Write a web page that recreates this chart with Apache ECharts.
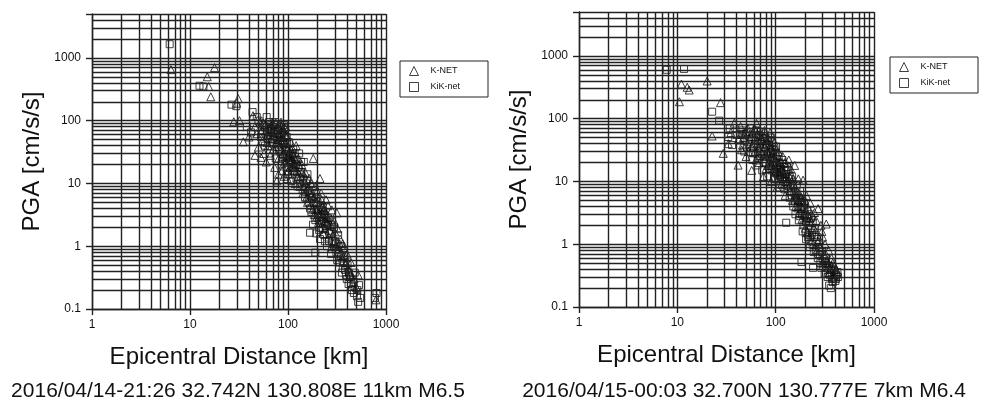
<!DOCTYPE html>
<html>
<head>
<meta charset="utf-8">
<script src="https://cdn.jsdelivr.net/npm/echarts@6/dist/echarts.min.js"></script>
<style>
  html, body { margin: 0; padding: 0; background: #fff; }
  #main { width: 981px; height: 403px; }
</style>
</head>
<body>
<div id="main"></div>
<script>
// tick labels
var xTickLabels = ['1', '10', '100', '1000']
var yTickLabels = ['0.1', '1', '10', '100', '1000']

// event captions
var captions = [
    '2016/04/14-21:26 32.742N 130.808E 11km M6.5',
    '2016/04/15-00:03 32.700N 130.777E 7km M6.4'
]

// [epicentral distance km, PGA cm/s/s]
var knet1 = [
    [6.4,650],[17.8,700],[15,500],[15.5,350],[16.3,240],[31,225],[30,190],[28,96],[32,100],[35,46],
    [40,55],[44,120],[46,80],[48,62],[52,95],[54,70],[55,48],[57,30],[58,85],[60,22],
    [62,60],[63,40],[65,75],[66,28],[68,52],[70,90],[71,35],[73,18],[74,65],[76,45],
    [78,80],[80,25],[82,55],[83,38],[85,95],[87,16],[88,70],[90,30],[92,48],[94,22],
    [96,60],[98,12],[100,35],[102,26],[105,18],[107,45],[110,14],[112,30],[115,22],[118,10],
    [121,40],[124,16],[128,25],[132,9],[135,13],[138,20],[142,7],[146,11],[150,15],[155,6],
    [160,8.5],[165,12],[170,4.5],[175,6.5],[181,25],[186,3.2],[190,9],[196,5],[200,3.8],[205,2.4],
    [212,12],[218,7],[225,4.2],[230,2.8],[238,1.9],[245,5.5],[252,3],[260,1.4],[270,2.2],[280,3.8],
    [290,1.1],[300,1.7],[315,3.4],[330,0.9],[340,1.3],[355,0.65],[370,0.95],[385,0.5],[400,0.75],[420,0.4],
    [440,0.55],[470,0.3],[500,0.22],[520,0.35],[790,0.14],
    [64,88],[69,66],[72,58],[77,72],[81,62],[86,82],[89,54],[93,76],[84,33],[99,28],
    [104,31],[109,24],[113,19],[210,4.6],[222,3.4],[234,3.9],[196,2.9],[250,2.4],
    [56,92],[59,66],[61,45],[67,83],[71,72],[75,92],[79,50],[83,88],[86,44],[91,66],
    [95,80],[97,35],[77,11],[80,14],[88,19],[91,13],[101,16],[106,24],[111,36],[114,27],
    [119,18],[126,13],[130,20],[140,15],[145,9],[152,7.5],[158,5],[166,7],[172,10],[178,3.8],
    [184,6],[192,4],[198,7.5],[207,3],[214,2],[220,5.5],[228,1.6],[236,3.3],[243,2.6],[256,4.4],
    [266,1.8],[275,2.7],[286,1.5],[296,2.5],[306,1],[320,1.9],[335,1.1],[348,0.8],[362,1.1],[378,0.7],
    [392,0.55],[410,0.45],[430,0.35],[455,0.25],[50,38],[46,28],[53,26]
]
var kik1 = [
    [6.2,1650],[12.5,360],[13.7,350],[26.5,180],[29.7,170],[43.5,137],[48,114],[60.6,114],[38,80],[42,65],
    [50,100],[53,55],[56,85],[58,40],[61,70],[64,95],[65,30],[67,60],[69,45],[72,85],
    [75,25],[77,55],[79,70],[81,35],[84,60],[86,20],[89,45],[91,85],[93,28],[95,38],
    [97,55],[99,18],[101,25],[103,45],[106,30],[108,11],[111,20],[113,35],[116,15],[119,24],
    [122,12],[126,18],[130,30],[133,10],[137,15],[141,8],[145,22],[149,6],[153,10],[158,14],
    [163,5],[168,1.64],[168,7],[173,3.5],[178,9],[183,4.8],[190,0.79],[190,2.6],[195,6],[202,3.2],
    [208,1.8],[215,4.5],[222,2.5],[228,3.6],[235,1.5],[242,2.1],[250,1],[258,2.8],[265,1.6],[275,0.75],
    [285,1.2],[295,2],[305,0.9],[318,0.6],[325,1.5],[338,0.55],[350,1],[362,0.45],[375,0.7],[390,0.35],
    [405,0.5],[415,0.25],[430,0.32],[450,0.2],[465,0.27],[480,0.38],[505,0.16],[530,0.24],[545,0.15],[800,0.18],
    [770,0.15],
    [66,78],[70,50],[74,68],[83,75],[87,64],[92,42],[96,26],[102,33],[107,22],[205,3.8],
    [214,2.9],[226,4.1],[240,3.1],[255,2.2],[280,1.6],[310,1.1],
    [55,62],[58,78],[62,52],[65,88],[68,72],[71,42],[74,95],[78,38],[80,62],[85,48],
    [88,26],[92,58],[94,34],[98,44],[100,14],[104,21],[109,28],[112,16],[117,30],[121,20],
    [125,9],[131,14],[136,22],[143,12],[150,8],[156,11],[162,7.5],[168,4],[174,6],[180,2.2],
    [186,3.8],[194,1.6],[200,5],[206,2.6],[212,1.3],[219,3.3],[226,1.9],[232,2.9],[238,1.2],[247,2.4],
    [262,1.2],[272,2.2],[282,0.9],[300,1.2],[312,0.8],[330,0.75],[345,0.7],[355,0.38],[368,0.55],[382,0.42],
    [398,0.3],[420,0.37],[440,0.26],[470,0.18],[510,0.2],[520,0.13]
]
var knet2 = [
    [11,356],[12.6,316],[13.2,286],[10.5,186],[20.1,398],[27.5,180],[22.6,53],[29.3,28],[41.5,18.2],[35,60],
    [38,85],[33,40],[44,75],[45,32],[47,50],[50,25],[52,70],[55,40],[57,15],[59,60],
    [62,30],[64,84],[66,45],[68,20],[70,55],[72,35],[75,12],[77,65],[79,25],[81,45],
    [83,18],[86,35],[88,60],[90,10],[92,28],[95,16],[97,42],[100,22],[103,8],[106,30],
    [109,14],[112,20],[115,9],[118,25],[121,12],[125,6],[128,17],[132,10],[136,22],[140,7],
    [144,13],[148,5],[152,9],[156,18],[160,4],[165,7],[170,11],[175,3.2],[180,5.5],[185,2.5],
    [190,10.5],[195,4.2],[200,1.8],[205,6],[212,3],[218,1.3],[225,4.5],[232,2.2],[240,1],[248,3.2],
    [255,1.6],[262,0.8],[270,3.7],[278,1.2],[288,2],[300,1.3],[310,0.7],[318,1.0],[327,2.1],[335,0.55],
    [345,0.8],[358,0.4],[370,0.6],[385,0.3],[400,0.45],[420,0.35],
    [74,44],[84,28],[93,21],[99,14],[108,18],[117,15],[126,11],[138,12],[170,5],[182,4],
    [42,48],[46,38],[49,62],[53,30],[56,52],[58,38],[61,70],[63,22],[65,58],[67,34],
    [69,26],[71,48],[73,28],[76,52],[78,36],[80,16],[82,30],[85,48],[87,22],[89,38],
    [91,18],[94,30],[96,24],[98,36],[101,15],[104,26],[107,19],[110,13],[114,17],[119,14],
    [124,20],[130,12],[134,8],[142,16],[150,11],[158,8],[163,6],[168,3.8],[176,6.2],[184,4.8],
    [192,3],[198,5],[203,2.4],[210,1.6],[215,3.7],[222,2.6],[230,1.4],[238,2.8],[245,1.8],[258,2.4],
    [268,1.1],[282,0.9],[295,1.6],[305,0.5],[322,0.7],[340,0.5],[352,0.35],[365,0.45],[380,0.5],[395,0.3],
    [410,0.4]
]
var kik2 = [
    [7.8,600],[11.7,620],[22.6,129],[26.6,93],[34.1,70],[33,51],[36,38],[40,55],[43,45],[46,65],
    [48,30],[50,58],[53,42],[56,70],[58,22],[60,35],[63,50],[65,18],[67,28],[69,40],
    [71,62],[73,15],[76,30],[78,48],[80,20],[82,12],[85,38],[87,24],[89,50],[91,15],
    [93,32],[96,11],[98,20],[101,36],[104,13],[107,25],[110,8],[113,16],[116,11],[120,19],
    [123,7.5],[127,13],[128,2.2],[131,9],[135,15],[139,5.5],[143,8],[147,12],[151,4],[155,6.5],
    [159,3],[164,9],[168,5],[172,2.4],[177,7],[182,3.6],[183,0.52],[188,1.6],[193,4.5],[198,2.8],
    [204,1.2],[210,3.5],[216,2],[222,0.9],[228,2.6],[235,1.5],[240,0.42],[244,0.75],[252,1.8],[260,1.1],
    [268,0.6],[276,0.9],[285,0.5],[295,0.75],[305,0.45],[315,0.34],[325,0.6],[338,0.3],[348,0.45],[364,0.2],
    [375,0.28],[390,0.38],[405,0.26],[415,0.32],[430,0.3],
    [79,34],[88,30],[94,18],[102,16],[111,12],[119,10],[133,8.5],[146,6],[160,5.5],[205,2.3],
    [45,55],[48,45],[51,35],[54,62],[57,48],[59,28],[62,40],[64,65],[66,24],[68,55],
    [70,30],[72,44],[75,58],[77,20],[81,40],[83,26],[86,16],[90,28],[92,42],[95,24],
    [97,14],[100,28],[103,18],[106,11],[109,20],[112,14],[117,22],[122,15],[126,10],[130,17],
    [137,11],[142,7],[149,9],[157,4.8],[162,7],[170,4],[175,2.8],[180,5],[186,3],[192,2],
    [196,3.8],[202,1.5],[208,2.6],[214,1.3],[220,3],[226,1.8],[232,1.1],[238,2.2],[246,1.3],[256,0.8],
    [264,1.3],[272,0.7],[282,0.68],[292,0.42],[300,0.6],[318,0.5],[330,0.42],[345,0.35],[356,0.32],[368,0.4],
    [380,0.25],[395,0.32],[410,0.28],[425,0.36],[350,0.22]
]

var font = 'Liberation Sans, Arial, Helvetica, sans-serif'
var lineColor = '#222'

function tickLabel(list) {
    return function (v) {
        for (var i = 0; i < list.length; i++) {
            if (Math.abs(Math.log10(v) - Math.log10(parseFloat(list[i]))) < 1e-6) return list[i]
        }
        return ''
    }
}

// 1..9 x each decade, used for the dense log grid
function logGridValues(lo, hi) {
    var out = []
    for (var e = Math.floor(Math.log10(lo)); e <= Math.ceil(Math.log10(hi)); e++) {
        for (var k = 1; k <= 9; k++) {
            var v = +(k * Math.pow(10, e)).toPrecision(6)
            if (v >= lo && v <= hi) out.push(v)
        }
    }
    return out
}

var gridLines = []
logGridValues(1, 1000).forEach(function (v) { gridLines.push({ xAxis: v }) })
logGridValues(0.1, 5000).forEach(function (v) { gridLines.push({ yAxis: v }) })

var grids = [
    { left: 92, top: 14, width: 294, height: 295 },
    { left: 579, top: 12, width: 295, height: 295 }
]

function xAxisOf(i) {
    return {
        gridIndex: i, type: 'log', logBase: 10, min: 1, max: 1000,
        name: 'Epicentral Distance [km]', nameLocation: 'middle', nameGap: 36,
        nameTextStyle: { fontSize: 24, color: '#111', fontFamily: font },
        axisLine: { show: true, lineStyle: { color: lineColor, width: 1.4 } },
        axisTick: { show: true, length: 6, lineStyle: { color: lineColor, width: 1.4 } },
        axisLabel: { fontSize: 12, color: '#111', margin: 10, fontFamily: font, formatter: tickLabel(xTickLabels) },
        splitLine: { show: false }
    }
}

function yAxisOf(i) {
    return {
        gridIndex: i, type: 'log', logBase: 10, min: 0.1, max: 5000,
        name: 'PGA [cm/s/s]', nameLocation: 'middle', nameGap: 48,
        nameTextStyle: { fontSize: 24, color: '#111', fontFamily: font },
        axisLine: { show: true, lineStyle: { color: lineColor, width: 1.4 } },
        axisTick: { show: true, length: 6, lineStyle: { color: lineColor, width: 1.4 } },
        axisLabel: { fontSize: 12, color: '#111', margin: 11, fontFamily: font, formatter: tickLabel(yTickLabels) },
        splitLine: { show: false }
    }
}

function scatterOf(name, data, i, symbol, size) {
    return {
        name: name, type: 'scatter', xAxisIndex: i, yAxisIndex: i,
        symbol: symbol, symbolSize: size, data: data,
        itemStyle: { color: 'rgba(255,255,255,0)', borderColor: '#111', borderWidth: 1 },
        z: 3
    }
}

function gridSeries(i) {
    return {
        name: 'grid' + i, type: 'scatter', xAxisIndex: i, yAxisIndex: i, data: [],
        silent: true, z: 1,
        markLine: {
            silent: true, symbol: ['none', 'none'], animation: false,
            label: { show: false },
            lineStyle: { color: lineColor, width: 1.4, type: 'solid', opacity: 1 },
            emphasis: { disabled: true },
            data: gridLines
        }
    }
}

function legendOf(left, top) {
    return {
        left: left, top: top, orient: 'vertical',
        borderColor: lineColor, borderWidth: 1, borderRadius: 0,
        padding: [5, 28, 5, 9], itemGap: 6, itemWidth: 9, itemHeight: 9,
        textStyle: { fontSize: 9, color: '#111', fontFamily: font, padding: [0, 0, 0, 7] },
        data: [
            { name: 'K-NET', icon: 'triangle', itemStyle: { color: 'rgba(255,255,255,0)', borderColor: '#111', borderWidth: 1 } },
            { name: 'KiK-net', icon: 'rect', itemStyle: { color: 'rgba(255,255,255,0)', borderColor: '#111', borderWidth: 1 } }
        ]
    }
}

var option = {
    backgroundColor: '#fff',
    animation: false,
    grid: grids,
    xAxis: [xAxisOf(0), xAxisOf(1)],
    yAxis: [yAxisOf(0), yAxisOf(1)],
    legend: [legendOf(400, 61), legendOf(890, 57)],
    graphic: [
        { type: 'text', x: 238, y: 391, style: { text: captions[0], fontSize: 21, fontFamily: font, fill: '#111', align: 'center', verticalAlign: 'middle' } },
        { type: 'text', x: 744, y: 391, style: { text: captions[1], fontSize: 21, fontFamily: font, fill: '#111', align: 'center', verticalAlign: 'middle' } }
    ],
    series: [
        gridSeries(0),
        gridSeries(1),
        scatterOf('K-NET', knet1, 0, 'triangle', 8),
        scatterOf('KiK-net', kik1, 0, 'rect', 7),
        scatterOf('K-NET', knet2, 1, 'triangle', 8),
        scatterOf('KiK-net', kik2, 1, 'rect', 7)
    ]
}

var myChart = echarts.init(document.getElementById('main'), null, { renderer: 'canvas' })
myChart.setOption(option)
</script>
</body>
</html>
